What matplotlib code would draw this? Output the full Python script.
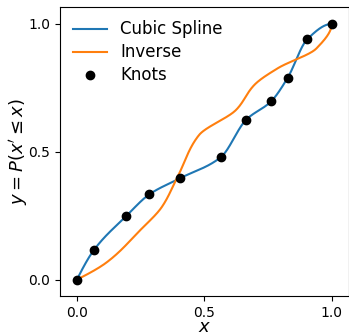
import numpy as np
import matplotlib
matplotlib.use("Agg")
import matplotlib.pyplot as plt

# knots
knot_x = [0.0, 0.067, 0.193, 0.285, 0.406, 0.565, 0.664, 0.763, 0.827, 0.904, 1.0]
knot_y = [0.0, 0.116, 0.248, 0.334, 0.397, 0.479, 0.625, 0.698, 0.789, 0.940, 1.0]


def pchip(xk, yk, xs):
    """Monotone cubic (Fritsch-Carlson) interpolation."""
    xk = np.asarray(xk, float)
    yk = np.asarray(yk, float)
    h = np.diff(xk)
    delta = np.diff(yk) / h
    d = np.zeros_like(xk)
    for k in range(1, len(xk) - 1):
        if delta[k - 1] * delta[k] > 0:
            w1 = 2 * h[k] + h[k - 1]
            w2 = h[k] + 2 * h[k - 1]
            d[k] = (w1 + w2) / (w1 / delta[k - 1] + w2 / delta[k])
    # end points
    def edge(h0, h1, m0, m1):
        dd = ((2 * h0 + h1) * m0 - h0 * m1) / (h0 + h1)
        if np.sign(dd) != np.sign(m0):
            dd = 0.0
        elif np.sign(m0) != np.sign(m1) and abs(dd) > abs(3 * m0):
            dd = 3 * m0
        return dd
    d[0] = edge(h[0], h[1], delta[0], delta[1])
    d[-1] = edge(h[-1], h[-2], delta[-1], delta[-2])

    idx = np.clip(np.searchsorted(xk, xs) - 1, 0, len(xk) - 2)
    t = (xs - xk[idx]) / h[idx]
    h00 = 2 * t**3 - 3 * t**2 + 1
    h10 = t**3 - 2 * t**2 + t
    h01 = -2 * t**3 + 3 * t**2
    h11 = t**3 - t**2
    return (h00 * yk[idx] + h10 * h[idx] * d[idx]
            + h01 * yk[idx + 1] + h11 * h[idx] * d[idx + 1])


xs = np.linspace(0, 1, 500)
ys = pchip(knot_x, knot_y, xs)

fig = plt.figure(figsize=(3.49, 3.35), dpi=100)
ax = fig.add_axes([0.172, 0.117, 0.8266, 0.862])

ax.plot(xs, ys, color="#1f77b4", lw=1.5, label="Cubic Spline")
ax.plot(ys, xs, color="#ff7f0e", lw=1.5, label="Inverse")
ax.plot(knot_x, knot_y, "o", color="black", ms=6, label="Knots")

ax.set_xlim(-0.066, 1.066)
ax.set_ylim(-0.063, 1.066)
ax.set_xticks([0.0, 0.5, 1.0])
ax.set_yticks([0.0, 0.5, 1.0])
ax.tick_params(labelsize=10)
ax.set_xlabel(r"$x$", fontsize=13, labelpad=-1)
ax.set_ylabel(r"$y = P(x' \leq x)$", fontsize=13, labelpad=-1.5)
ax.legend(loc="upper left", frameon=False, fontsize=12, labelspacing=0.3,
          borderaxespad=0.4)

fig.savefig("out.png", dpi=100)
